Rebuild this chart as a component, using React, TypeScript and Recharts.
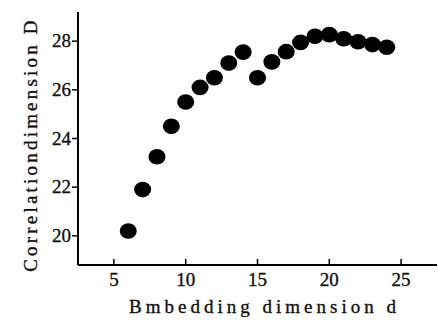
import { ScatterChart, Scatter, XAxis, YAxis } from "recharts";

// embedding dimension d and correlation dimension D
const dims = [6, 7, 8, 9, 10, 11, 12, 13, 14, 15, 16, 17, 18, 19, 20, 21, 22, 23, 24];
const corrDims = [
  20.2, 21.9, 23.25, 24.5, 25.5, 26.1, 26.5, 27.1, 27.55, 26.5, 27.15, 27.57, 27.95,
  28.2, 28.27, 28.1, 27.98, 27.86, 27.75,
];
const xTicks = [5, 10, 15, 20, 25];
const yTicks = [20, 22, 24, 26, 28];

const data = dims.map((d, i) => ({ d, D: corrDims[i] }));

const txt = {
  fontFamily: "Liberation Serif",
  fontSize: 19,
  fill: "#111",
  stroke: "#111",
  strokeWidth: 0.35,
};

const Dot = (props: any) => (
  <ellipse cx={props.cx} cy={props.cy} rx={8.5} ry={7.8} fill="#000" />
);

const XTick = (props: any) => {
  const { x, y, payload } = props;
  return (
    <g>
      <line x1={x} x2={x} y1={y - 6} y2={y} stroke="#000" strokeWidth={1.5} />
      <text x={x} y={y + 21} textAnchor="middle" style={txt}>
        {payload.value}
      </text>
    </g>
  );
};

const YTick = (props: any) => {
  const { x, y, payload } = props;
  return (
    <text x={x} y={y + 6} textAnchor="end" style={txt}>
      {payload.value}
    </text>
  );
};

export default function App() {
  return (
    <div style={{ position: "absolute", left: 0, top: 0, background: "#fff" }}>
      <ScatterChart width={438} height={320} margin={{ top: 12, right: 1, bottom: 0, left: 0 }}>
        <XAxis
          type="number"
          dataKey="d"
          domain={[2.5, 27.5]}
          ticks={xTicks}
          tickSize={0}
          tickMargin={0}
          tickLine={false}
          tick={<XTick />}
          axisLine={{ stroke: "#000", strokeWidth: 2 }}
          height={55}
          label={(p: any) => {
            const vb = p.viewBox;
            return (
              <text
                x={vb.x + vb.width / 2 + 7}
                y={vb.y + 48}
                textAnchor="middle"
                style={{ ...txt, letterSpacing: 4 }}
              >
                Bmbedding dimension d
              </text>
            );
          }}
        />
        <YAxis
          type="number"
          dataKey="D"
          domain={[18.8, 29.2]}
          ticks={yTicks}
          width={78}
          tickSize={6}
          tickMargin={1}
          tickLine={{ stroke: "#000", strokeWidth: 1.5 }}
          tick={<YTick />}
          axisLine={{ stroke: "#000", strokeWidth: 2 }}
          label={(p: any) => {
            const vb = p.viewBox;
            const cx = vb.x + 30;
            const cy = vb.y + vb.height / 2 + 6;
            return (
              <text
                x={cx}
                y={cy}
                transform={`rotate(-90 ${cx} ${cy})`}
                textAnchor="middle"
                dominantBaseline="central"
                style={{ ...txt, letterSpacing: 3.2 }}
              >
                Correlationdimension D
              </text>
            );
          }}
        />
        <Scatter data={data} fill="#000" shape={<Dot />} isAnimationActive={false} />
      </ScatterChart>
    </div>
  );
}
